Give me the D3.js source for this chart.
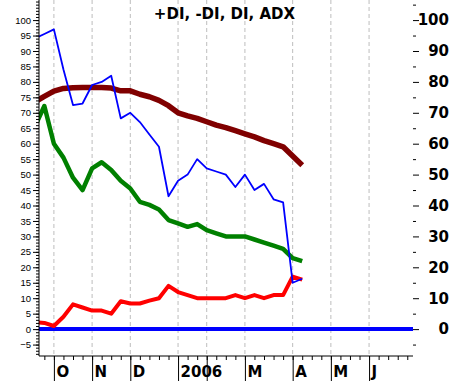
<!DOCTYPE html>
<html>
<head>
<meta charset="utf-8">
<script src="https://cdn.jsdelivr.net/npm/d3@7"></script>
<style>
  body { margin: 0; background: #fff; }
  .left text { font-family: "Liberation Sans", Arial, sans-serif; font-size: 9.5px; }
  .right text, .months text, .title { font-family: "DejaVu Sans", sans-serif; font-weight: bold; font-size: 15px; }
</style>
</head>
<body>
<div id="chart"></div>
<script>
// weekly points, index 0 sits just left of the y axis
var weeks = d3.range(0, 29);

var plusDI = [94, 95.5, 97, 84, 72.5, 73, 79, 80, 82, 68.2, 70, 67, 63, 59, 43, 48, 50, 55, 52, 51, 50, 46, 50, 45, 47, 42, 41, 15, 16.3];
var minusDI = [2.3, 2, 1, 4, 8, 7, 6, 6, 5, 9, 8.3, 8.3, 9.2, 10, 14, 12, 11, 10, 10, 10, 10, 11, 10, 11, 10, 11, 11, 17, 16];
var DI = [65.5, 72.2, 60, 55.5, 49, 45, 52, 54, 51.5, 48, 45.5, 41.2, 40.2, 38.7, 35.3, 34.2, 33.1, 34, 32, 31, 30, 30, 30, 29, 28, 27, 26, 23, 22];
var ADX = [73.5, 75.3, 77, 77.9, 78.1, 78.2, 78.2, 78.2, 78, 77.1, 77.1, 76, 75.2, 74, 72.3, 70, 69, 68.2, 67.1, 66, 65.2, 64.2, 63.2, 62.2, 61, 60, 59, 56, 53];

// month ticks (week index) and their labels, Feb label hidden by "2006"
var monthWeeks = [2, 6, 10, 15, 18, 22, 27, 31, 35];
var monthLabels = ["O", "N", "D", "2006", "", "M", "A", "M", "J"];

var leftTicks = d3.range(-5, 101, 5);
var rightTicks = d3.range(0, 101, 10);

var W = 451, H = 381;
var pLeft = 39, pRight = 413, pTop = 0, pBottom = 356;

var svg = d3.select("#chart")
  .append("svg")
  .attr("width", W)
  .attr("height", H);

var x = d3.scaleLinear().domain([0.44, 39.6]).range([pLeft, pRight]);
var y = d3.scaleLinear().domain([-8.7, 106.5]).range([pBottom, pTop]);

// dashed month gridlines
svg.append("g")
  .selectAll("line")
  .data(monthWeeks)
  .enter()
  .append("line")
  .attr("x1", d => x(d)).attr("x2", d => x(d))
  .attr("y1", pTop).attr("y2", pBottom)
  .attr("stroke", "#bdbdbd")
  .attr("stroke-dasharray", "4,3");

// title
svg.append("text")
  .attr("class", "title")
  .attr("x", 224.5)
  .attr("y", 19)
  .attr("text-anchor", "middle")
  .text("+DI, -DI, DI, ADX");

// clip lines to the plot area
svg.append("clipPath")
  .attr("id", "plot")
  .append("rect")
  .attr("x", pLeft).attr("y", pTop)
  .attr("width", pRight - pLeft).attr("height", pBottom - pTop);

var plot = svg.append("g").attr("clip-path", "url(#plot)");

// zero line
plot.append("line")
  .attr("x1", pLeft).attr("x2", pRight)
  .attr("y1", y(0)).attr("y2", y(0))
  .attr("stroke", "#0000ff")
  .attr("stroke-width", 4);

var line = function (vals) {
  return d3.line()
    .x(function (d) { return x(d); })
    .y(function (d, i) { return y(vals[i]); })(weeks);
};

var series = [
  { vals: ADX, color: "#800000", w: 5.5 },
  { vals: DI, color: "#008000", w: 4.5 },
  { vals: minusDI, color: "#ff0000", w: 4 },
  { vals: plusDI, color: "#0000ff", w: 1.8 }
];

series.forEach(s => {
  plot.append("path")
    .attr("d", line(s.vals))
    .attr("fill", "none")
    .attr("stroke", s.color)
    .attr("stroke-width", s.w)
    .attr("stroke-linejoin", "round");
});

// left axis: minor ticks every 1, labels every 5
svg.append("g")
  .attr("transform", "translate(" + pLeft + ",0)")
  .call(d3.axisLeft(y).tickValues(d3.range(-8, 107, 1)).tickSize(3).tickSizeOuter(0).tickFormat(""))
  .select(".domain").remove();

var la = svg.append("g")
  .attr("class", "left")
  .attr("transform", "translate(" + pLeft + ",0)")
  .call(d3.axisLeft(y).tickValues(leftTicks).tickSize(6).tickPadding(2).tickSizeOuter(0));
la.select(".domain").remove();
la.selectAll("text").attr("fill", "#000");

svg.append("line")
  .attr("x1", pLeft).attr("x2", pLeft)
  .attr("y1", pTop).attr("y2", pBottom)
  .attr("stroke", "#000");

// right axis: minor at 5s, labels every 10
svg.append("g")
  .attr("transform", "translate(" + pRight + ",0)")
  .call(d3.axisRight(y).tickValues(d3.range(-5, 106, 10)).tickSize(3).tickSizeOuter(0).tickFormat(""))
  .select(".domain").remove();

var ra = svg.append("g")
  .attr("class", "right")
  .attr("transform", "translate(" + pRight + ",0)")
  .call(d3.axisRight(y).tickValues(rightTicks).tickSize(6).tickSizeOuter(0));
ra.select(".domain").remove();
ra.selectAll("text")
  .attr("x", W - 2 - pRight)
  .attr("fill", "#000")
  .style("text-anchor", "end");

// bottom axis: weekly minor ticks
svg.append("g")
  .attr("transform", "translate(0," + pBottom + ")")
  .call(d3.axisBottom(x).tickValues(d3.range(1, 40)).tickSize(4).tickSizeOuter(0).tickFormat(""))
  .select(".domain").remove();

// month ticks with labels
var ma = svg.append("g")
  .attr("class", "months")
  .attr("transform", "translate(0," + pBottom + ")")
  .call(d3.axisBottom(x).tickValues(monthWeeks).tickSize(25).tickSizeOuter(0)
    .tickFormat((d, i) => monthLabels[i]));
ma.select(".domain").remove();
ma.selectAll("text")
  .attr("x", 2)
  .attr("y", 21)
  .attr("dy", 0)
  .attr("fill", "#000")
  .style("text-anchor", "start");

svg.append("line")
  .attr("x1", pLeft).attr("x2", pRight)
  .attr("y1", pBottom).attr("y2", pBottom)
  .attr("stroke", "#000");
</script>
</body>
</html>
